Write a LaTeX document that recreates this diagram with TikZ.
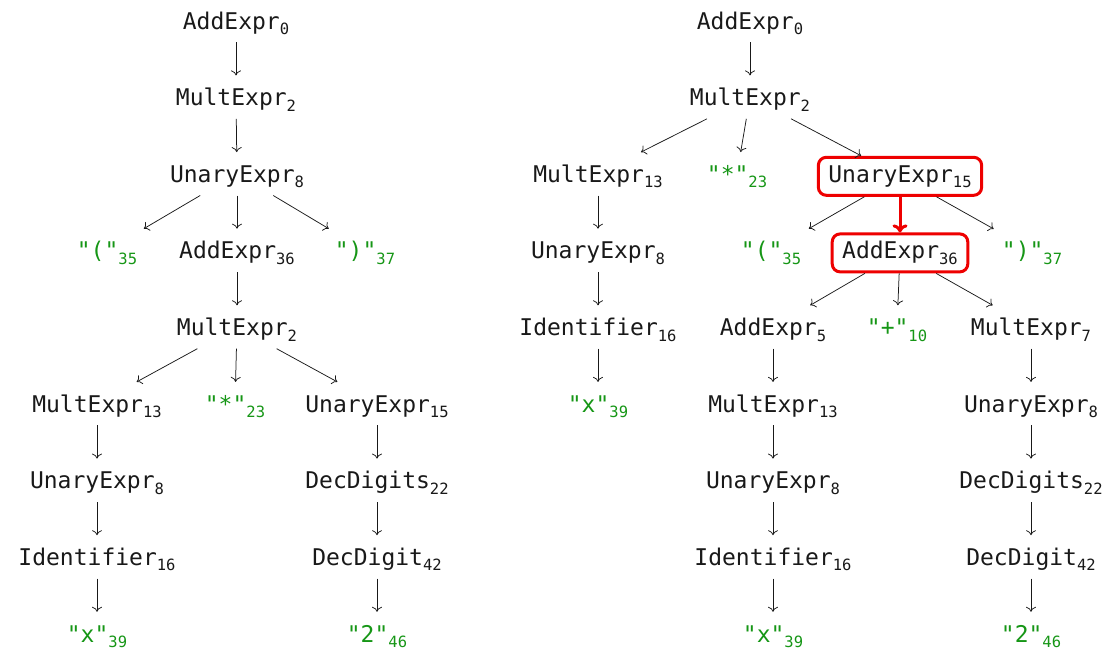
\documentclass[tikz,border=0pt]{standalone}
\usepackage{fontspec}
\setmonofont{DejaVu Sans Mono}
\usetikzlibrary{arrows.meta}
\definecolor{litgreen}{RGB}{22,150,22}
\definecolor{hired}{RGB}{238,0,0}
\definecolor{ink}{RGB}{25,25,25}
% grammar symbol with its index as a lowered subscript
\newcommand\sym[2]{#1\raisebox{-5.5pt}{\fontsize{15.5}{15.5}\selectfont #2}}
% terminal in straight double quotes, with its index
\newcommand\term[2]{\sym{"#1"}{#2}}
\tikzset{
  nt/.style={anchor=base, text height=17pt, text depth=0pt, text=ink,
    inner xsep=8pt, inner ysep=13pt, font=\ttfamily\fontsize{23}{23}\selectfont},
  lit/.style={nt, text=litgreen},
  hl/.style={nt, draw=hired, line width=3pt, rounded corners=8pt,
    text height=12pt, inner xsep=10pt},
  arr/.style={-{To[length=5pt,width=10pt]}, line width=0.75pt, draw=ink},
  hlarr/.style={-{To[length=8pt,width=15pt]}, line width=3pt, draw=hired},
}
\begin{document}
\begin{tikzpicture}[x=1pt, y=-1pt]
\useasboundingbox (0,0) rectangle (1109,653);
% row baselines
\def\ra{29}\def\rb{105.6}\def\rc{182.3}\def\rd{258.9}\def\re{335.5}
\def\rf{412.1}\def\rg{488.8}\def\rh{565.4}\def\ri{642}

% ---- left tree ----
\node[nt]  (L0)  at (236,\ra) {\sym{AddExpr}{0}};
\node[nt]  (L1)  at (236,\rb) {\sym{MultExpr}{2}};
\node[nt]  (L2)  at (237,\rc) {\sym{UnaryExpr}{8}};
\node[lit] (L3a) at (107,\rd) {\term{(}{35}};
\node[nt]  (L3b) at (237,\rd) {\sym{AddExpr}{36}};
\node[lit] (L3c) at (365,\rd) {\term{)}{37}};
\node[nt]  (L4)  at (237,\re) {\sym{MultExpr}{2}};
\node[nt]  (L5a) at (97,\rf)  {\sym{MultExpr}{13}};
\node[lit] (L5b) at (235,\rf) {\term{*}{23}};
\node[nt]  (L5c) at (377,\rf) {\sym{UnaryExpr}{15}};
\node[nt]  (L6a) at (97,\rg)  {\sym{UnaryExpr}{8}};
\node[nt]  (L6c) at (377,\rg) {\sym{DecDigits}{22}};
\node[nt]  (L7a) at (97,\rh)  {\sym{Identifier}{16}};
\node[nt]  (L7c) at (377,\rh) {\sym{DecDigit}{42}};
\node[lit] (L8a) at (97,\ri)  {\term{x}{39}};
\node[lit] (L8c) at (377,\ri) {\term{2}{46}};

\foreach \p/\c in {L0/L1, L1/L2, L2/L3a, L2/L3b, L2/L3c, L3b/L4,
                   L4/L5a, L4/L5b, L4/L5c, L5a/L6a, L6a/L7a, L7a/L8a,
                   L5c/L6c, L6c/L7c, L7c/L8c}
  \draw[arr] (\p) -- (\c);

% ---- right tree ----
\node[nt]  (R0)  at (750,\ra)  {\sym{AddExpr}{0}};
\node[nt]  (R1)  at (750,\rb)  {\sym{MultExpr}{2}};
\node[nt]  (R2a) at (598,\rc)  {\sym{MultExpr}{13}};
\node[lit] (R2b) at (737,\rc)  {\term{*}{23}};
\node[hl]  (R2c) at (900,\rc)  {\sym{UnaryExpr}{15}};
\node[nt]  (R3a) at (598,\rd)  {\sym{UnaryExpr}{8}};
\node[lit] (R3b) at (771,\rd)  {\term{(}{35}};
\node[hl]  (R3c) at (900,\rd)  {\sym{AddExpr}{36}};
\node[lit] (R3d) at (1032,\rd) {\term{)}{37}};
\node[nt]  (R4a) at (598,\re)  {\sym{Identifier}{16}};
\node[nt]  (R4b) at (773,\re)  {\sym{AddExpr}{5}};
\node[lit] (R4c) at (897,\re)  {\term{+}{10}};
\node[nt]  (R4d) at (1031,\re) {\sym{MultExpr}{7}};
\node[lit] (R5a) at (598,\rf)  {\term{x}{39}};
\node[nt]  (R5b) at (773,\rf)  {\sym{MultExpr}{13}};
\node[nt]  (R5d) at (1031,\rf) {\sym{UnaryExpr}{8}};
\node[nt]  (R6b) at (773,\rg)  {\sym{UnaryExpr}{8}};
\node[nt]  (R6d) at (1031,\rg) {\sym{DecDigits}{22}};
\node[nt]  (R7b) at (773,\rh)  {\sym{Identifier}{16}};
\node[nt]  (R7d) at (1031,\rh) {\sym{DecDigit}{42}};
\node[lit] (R8b) at (773,\ri)  {\term{x}{39}};
\node[lit] (R8d) at (1031,\ri) {\term{2}{46}};

\foreach \p/\c in {R0/R1, R1/R2a, R1/R2b, R1/R2c, R2a/R3a, R3a/R4a, R4a/R5a,
                   R2c/R3b, R2c/R3d, R3c/R4b, R3c/R4c, R3c/R4d,
                   R4b/R5b, R5b/R6b, R6b/R7b, R7b/R8b,
                   R4d/R5d, R5d/R6d, R6d/R7d, R7d/R8d}
  \draw[arr] (\p) -- (\c);

\draw[hlarr] (R2c) -- (R3c);
\end{tikzpicture}
\end{document}
